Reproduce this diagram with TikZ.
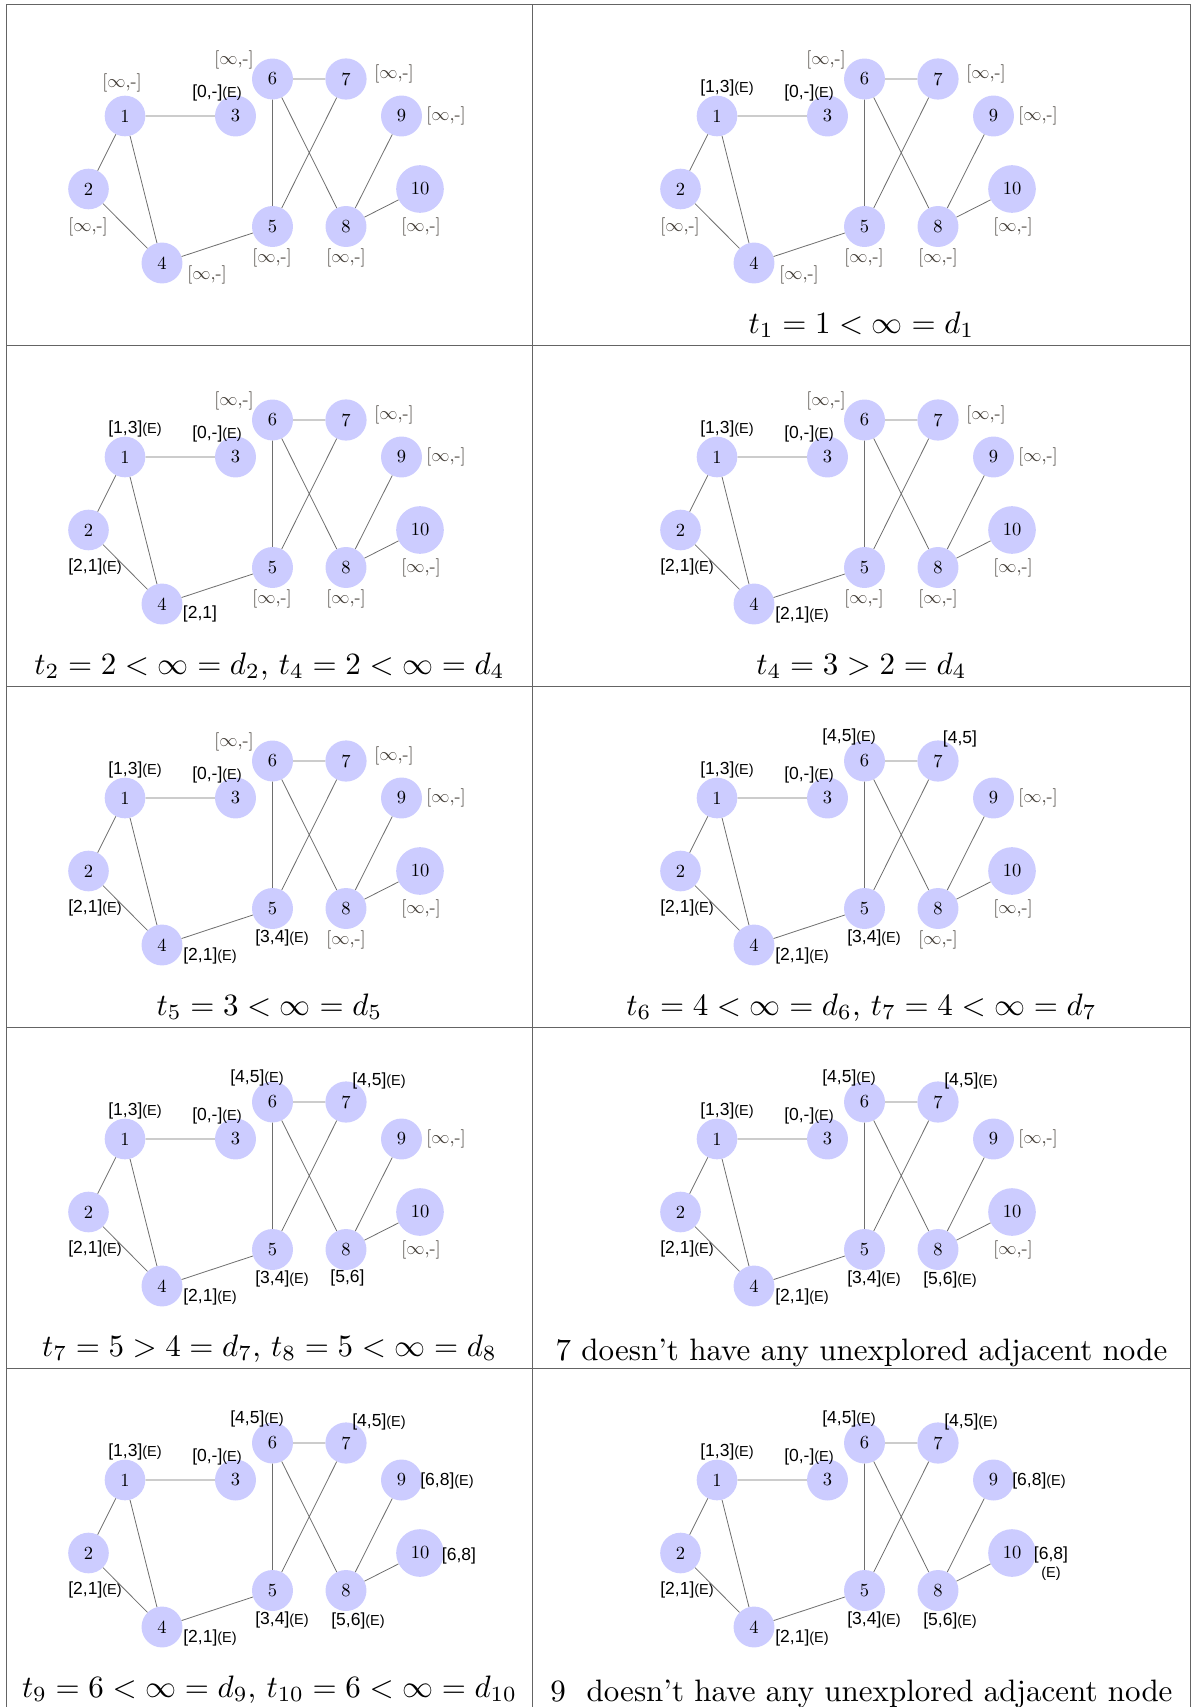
\documentclass[tikz,border=0pt]{standalone}
\usepackage{fontspec}
\usepackage{graphicx}
\newfontfamily\lsans{Liberation Sans}
\definecolor{nodefill}{RGB}{204,204,255}
\definecolor{labgray}{RGB}{68,62,56}
\definecolor{gridgray}{RGB}{100,100,100}
\definecolor{edgegray}{RGB}{110,110,110}
\newcommand\myScaled[2]{\scalebox{#1}{\fontsize{10}{12}\selectfont #2}}
\tikzset{
  vtx/.style={circle, fill=nodefill, inner sep=9pt},
  gedge/.style={draw=edgegray, line width=0.8pt},
  glab/.style={text=labgray, inner sep=0pt},
  blab/.style={text=black, inner sep=0pt},
  captext/.style={anchor=base, inner sep=0pt},
  tabline/.style={draw=gridgray, line width=1.5pt}
}
\newcommand\myInf{\myScaled{1.82}{[$\infty$,-]}}
\newcommand\myNum[1]{\myScaled{1.85}{#1}}
\newcommand\myCap[1]{\myScaled{3.1}{#1}}
\newcommand\myBig[1]{{\lsans\fontsize{17.5}{19}\selectfont #1}}
\newcommand\mySmall[1]{{\lsans\fontsize{14.5}{16}\selectfont #1}}
\newcommand\myEL[1]{\myBig{#1}\mySmall{(E)}}
\newcommand\gbase{%
  \node[vtx] (n1) at (125,116) {\myNum{1}};
  \node[vtx] (n2) at (88.5,189) {\myNum{2}};
  \node[vtx] (n3) at (235.5,116) {\myNum{3}};
  \node[vtx] (n4) at (162,263) {\myNum{4}};
  \node[vtx] (n5) at (272.5,226.5) {\myNum{5}};
  \node[vtx] (n6) at (272.5,79) {\myNum{6}};
  \node[vtx] (n7) at (346,79) {\myNum{7}};
  \node[vtx] (n8) at (346,226.5) {\myNum{8}};
  \node[vtx] (n9) at (401.5,116) {\myNum{9}};
  \node[vtx] (n10) at (420,189) {\myNum{10}};
  \draw[gedge] (n1)--(n3) (n1)--(n2) (n1)--(n4) (n2)--(n4) (n4)--(n5)
    (n5)--(n6) (n5)--(n7) (n6)--(n7) (n6)--(n8) (n8)--(n9) (n8)--(n10);}
% infinity labels
\newcommand\Ione{\node[glab] (i1) at (122,83) {\myInf};}
\newcommand\Itwo{\node[glab] (i2) at (88,227) {\myInf};}
\newcommand\Ifour{\node[glab] (i4) at (207,275) {\myInf};}
\newcommand\Ifive{\node[glab] (i5) at (272,258) {\myInf};}
\newcommand\Isix{\node[glab] (i6) at (234,60) {\myInf};}
\newcommand\Iseven{\node[glab] (i7) at (394,74) {\myInf};}
\newcommand\Ieight{\node[glab] (i8) at (346,258) {\myInf};}
\newcommand\Inine{\node[glab] (i9) at (446,116) {\myInf};}
\newcommand\Iten{\node[glab] (i10) at (421,227) {\myInf};}
% black labels
\newcommand\Eone{\node[blab] (e1) at (135,88) {\myEL{[1,3]}};}
\newcommand\Etwo{\node[blab] (e2) at (95,226) {\myEL{[2,1]}};}
\newcommand\Ethree{\node[blab] (e3) at (217,93) {\myEL{[0,-]}};}
\newcommand\Pfour{\node[blab] (e4) at (200,273) {\myBig{[2,1]}};}
\newcommand\Efour{\node[blab] (e4) at (210,274) {\myEL{[2,1]}};}
\newcommand\Efive{\node[blab] (e5) at (282,256) {\myEL{[3,4]}};}
\newcommand\Esix{\node[blab] (e6) at (257,55) {\myEL{[4,5]}};}
\newcommand\Pseven{\node[blab] (e7) at (368,57) {\myBig{[4,5]}};}
\newcommand\Eseven{\node[blab] (e7) at (379,58) {\myEL{[4,5]}};}
\newcommand\Peight{\node[blab] (e8) at (347.5,255) {\myBig{[5,6]}};}
\newcommand\Eeight{\node[blab] (e8) at (358,257) {\myEL{[5,6]}};}
\newcommand\Enine{\node[blab] (e9) at (447,117) {\myEL{[6,8]}};}
\newcommand\Pten{\node[blab] (e10) at (459,192) {\myBig{[6,8]}};}
\newcommand\Eten{\node[blab] (e10) at (459,191) {\myBig{[6,8]}};
  \node[blab] (e10b) at (459,210) {\mySmall{(E)}};}
\begin{document}
\begin{tikzpicture}[x=1pt,y=-1pt]
\useasboundingbox (0,0) rectangle (1191,1707);
\foreach \yy in {4.5,345.5,686.5,1027.5,1368.5} \draw[tabline] (6.5,\yy) -- (1190.5,\yy);
\foreach \xx in {6.5,532.5,1190.5} \draw[tabline] (\xx,4.5) -- (\xx,1707);
% row 0
\begin{scope}[shift={(0,0)}]
  \gbase \Ione \Itwo \Ethree \Ifour \Ifive \Isix \Iseven \Ieight \Inine \Iten
\end{scope}
\begin{scope}[shift={(592,0)}]
  \gbase \Eone \Itwo \Ethree \Ifour \Ifive \Isix \Iseven \Ieight \Inine \Iten
  \node[captext] (c01) at (269.5,333) {\myCap{$t_1 = 1 < \infty = d_1$}};
\end{scope}
% row 1
\begin{scope}[shift={(0,341)}]
  \gbase \Eone \Etwo \Ethree \Pfour \Ifive \Isix \Iseven \Ieight \Inine \Iten
  \node[captext] (c10) at (269.5,333) {\myCap{$t_2 = 2 < \infty = d_2$, $t_4 = 2 < \infty = d_4$}};
\end{scope}
\begin{scope}[shift={(592,341)}]
  \gbase \Eone \Etwo \Ethree \Efour \Ifive \Isix \Iseven \Ieight \Inine \Iten
  \node[captext] (c11) at (269.5,333) {\myCap{$t_4 = 3 > 2 = d_4$}};
\end{scope}
% row 2
\begin{scope}[shift={(0,682)}]
  \gbase \Eone \Etwo \Ethree \Efour \Efive \Isix \Iseven \Ieight \Inine \Iten
  \node[captext] (c20) at (269.5,333) {\myCap{$t_5 = 3 < \infty = d_5$}};
\end{scope}
\begin{scope}[shift={(592,682)}]
  \gbase \Eone \Etwo \Ethree \Efour \Efive \Esix \Pseven \Ieight \Inine \Iten
  \node[captext] (c21) at (269.5,333) {\myCap{$t_6 = 4 < \infty = d_6$, $t_7 = 4 < \infty = d_7$}};
\end{scope}
% row 3
\begin{scope}[shift={(0,1023)}]
  \gbase \Eone \Etwo \Ethree \Efour \Efive \Esix \Eseven \Peight \Inine \Iten
  \node[captext] (c30) at (269.5,333) {\myCap{$t_7 = 5 > 4 = d_7$, $t_8 = 5 < \infty = d_8$}};
\end{scope}
\begin{scope}[shift={(592,1023)}]
  \gbase \Eone \Etwo \Ethree \Efour \Efive \Esix \Eseven \Eeight \Inine \Iten
  \node[captext] (c31) at (269.5,337) {\myCap{7 doesn't have any unexplored adjacent node}};
\end{scope}
% row 4
\begin{scope}[shift={(0,1364)}]
  \gbase \Eone \Etwo \Ethree \Efour \Efive \Esix \Eseven \Eeight \Enine \Pten
  \node[captext] (c40) at (269.5,333) {\myCap{$t_9 = 6 < \infty = d_9$, $t_{10} = 6 < \infty = d_{10}$}};
\end{scope}
\begin{scope}[shift={(592,1364)}]
  \gbase \Eone \Etwo \Ethree \Efour \Efive \Esix \Eseven \Eeight \Enine \Eten
  \node[captext] (c41) at (269.5,337) {\myCap{9~~doesn't have any unexplored adjacent node}};
\end{scope}
\end{tikzpicture}
\end{document}
